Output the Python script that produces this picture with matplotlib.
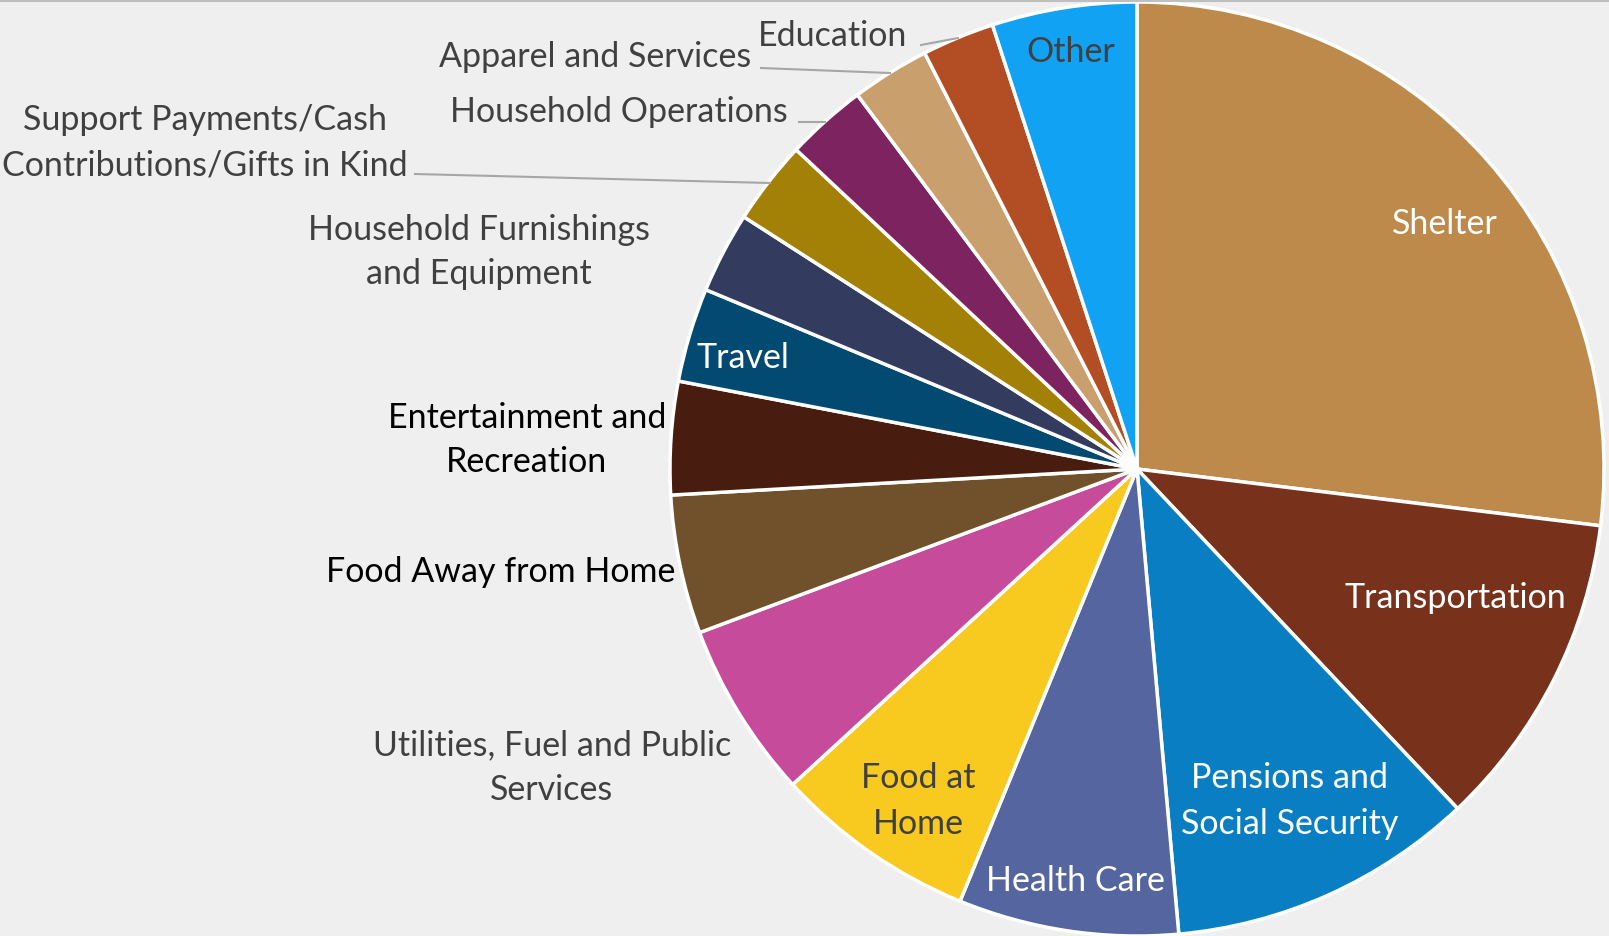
import matplotlib
matplotlib.use('Agg')
import matplotlib.pyplot as plt

# parcelas de gastos (%)
categorias = ['Shelter', 'Transportation', 'Pensions and\nSocial Security', 'Health Care',
              'Food at\nHome', 'Utilities, Fuel and Public\nServices', 'Food Away from Home',
              'Entertainment and\nRecreation', 'Travel', 'Household Furnishings\nand Equipment',
              'Support Payments/Cash\nContributions/Gifts in Kind', 'Household Operations',
              'Apparel and Services', 'Education', 'Other']
valores = [26.9, 11.0, 10.6, 7.6, 7.0, 6.1, 4.8, 3.9, 3.25, 2.8, 2.9, 2.8, 2.7, 2.5, 5.0]
cores = ['#BE8A4B', '#78311A', '#0A7EC2', '#55659F', '#F8C91F', '#C64C9B', '#71512B',
         '#481D0F', '#034A72', '#333C5E', '#A28106', '#7D2460', '#C99F6E', '#B34D23', '#12A2F3']

# layout dos rotulos (pixels da figura, origem no topo)
pos_rotulos = [(1445, 224), (1455, 598), (1290, 801), (1075, 881), (918, 801),
               (552, 768), (501, 572), (527, 440), (743, 358), (479, 252),
               (205, 143), (619, 112), (595, 57), (833, 36), (1071, 52)]
cor_rotulos = ['white', 'white', 'white', 'white', '#404040', '#404040', 'black', 'black',
               'white', '#404040', '#404040', '#404040', '#404040', '#404040', '#404040']
linhas_guia = {10: ((415, 174), (770, 183)), 11: ((799, 122), (825, 122)),
               12: ((761, 68), (890, 73)), 13: ((921, 45), (958, 38))}

W, H = 1609, 936
fig = plt.figure(figsize=(W / 100, H / 100), dpi=100, facecolor='#EFEFEF')
ax = fig.add_axes([0, 0, 1, 1])
ax.set_facecolor('#EFEFEF')

ax.pie(valores, colors=cores, startangle=90, counterclock=False,
       center=(1137, H - 469), radius=467,
       wedgeprops=dict(edgecolor='white', linewidth=2.5))

# o pie redefine os limites, entao fixa depois
ax.set_xlim(0, W)
ax.set_ylim(0, H)
ax.set_aspect('equal')
ax.axis('off')

for i, texto in enumerate(categorias):
    x, y = pos_rotulos[i]
    ax.text(x, H - y, texto, ha='center', va='center', fontsize=24.5,
            family='Lato', color=cor_rotulos[i], linespacing=1.5)

for i, (p0, p1) in linhas_guia.items():
    ax.plot([p0[0], p1[0]], [H - p0[1], H - p1[1]], color='#A6A6A6', lw=1.5)

ax.plot([0, W], [H - 1, H - 1], color='#BFBFBF', lw=1.5)

plt.savefig('out.png', dpi=100, facecolor=fig.get_facecolor())
plt.close()
